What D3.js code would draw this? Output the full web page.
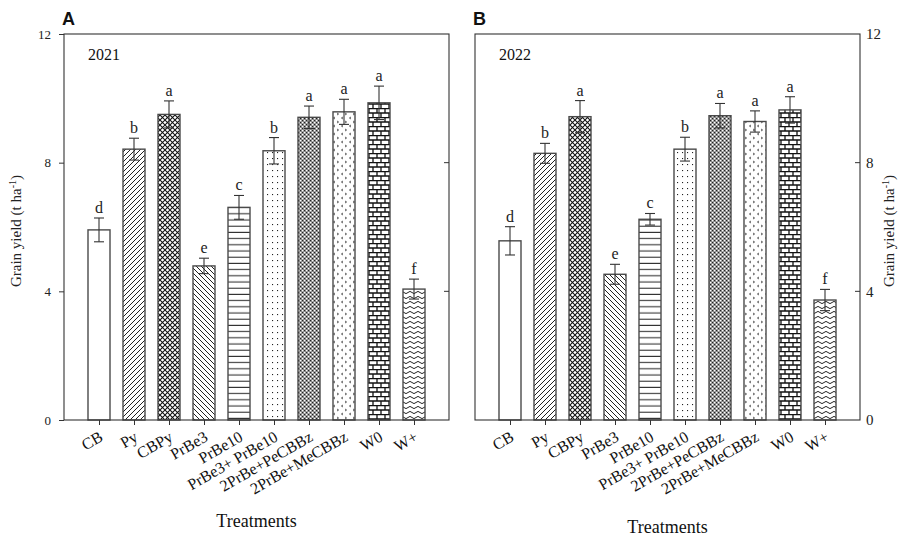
<!DOCTYPE html>
<html><head><meta charset="utf-8">
<script src="https://cdn.jsdelivr.net/npm/d3@7"></script>
<style>body{margin:0;background:#fff}svg{display:block}</style>
</head><body>
<svg id="c" width="907" height="537"></svg>
<script>
const categories = ["CB","Py","CBPy","PrBe3","PrBe10","PrBe3+ PrBe10","2PrBe+PeCBBz","2PrBe+MeCBBz","W0","W+"];
const yield2021 = [5.91,8.42,9.50,4.79,6.61,8.37,9.41,9.58,9.86,4.07];
const err2021   = [0.37,0.34,0.42,0.24,0.37,0.41,0.35,0.39,0.52,0.31];
const letters2021 = ["d","b","a","e","c","b","a","a","a","f"];
const yield2022 = [5.57,8.29,9.43,4.53,6.24,8.42,9.46,9.28,9.64,3.73];
const err2022   = [0.44,0.31,0.50,0.31,0.18,0.37,0.38,0.33,0.41,0.33];
const letters2022 = ["d","b","a","e","c","b","a","a","a","f"];
const yTicks = [0,4,8,12];
const patternIds = ["none","fwd","cross","back","horiz","dots","gray","chev","brick","wave"];

const svg = d3.select("#c");
const defs = svg.append("defs");
function pat(id,w,h){return defs.append("pattern").attr("id",id).attr("patternUnits","userSpaceOnUse").attr("width",w).attr("height",h);}
let p;
p=pat("fwd",5,5); p.append("rect").attr("width",5).attr("height",5).attr("fill","#fff");
p.append("path").attr("d","M-1,1 l2,-2 M0,5 l5,-5 M4,6 l2,-2").attr("stroke","#222").attr("stroke-width",1);
p=pat("back",5,5); p.append("rect").attr("width",5).attr("height",5).attr("fill","#fff");
p.append("path").attr("d","M-1,4 l2,2 M0,0 l5,5 M4,-1 l2,2").attr("stroke","#222").attr("stroke-width",1);
p=pat("cross",5,5); p.append("rect").attr("width",5).attr("height",5).attr("fill","#fff");
p.append("path").attr("d","M0,0 L5,5 M0,5 L5,0").attr("stroke","#111").attr("stroke-width",1.05);
p=pat("horiz",6,6.2); p.append("rect").attr("width",6).attr("height",6.2).attr("fill","#fff");
p.append("line").attr("x1",0).attr("x2",6).attr("y1",3).attr("y2",3).attr("stroke","#333").attr("stroke-width",1.1);
p=pat("dots",5,6); p.append("rect").attr("width",5).attr("height",6).attr("fill","#fff");
p.append("rect").attr("x",2).attr("y",2).attr("width",1.1).attr("height",1.1).attr("fill","#222");
p=pat("gray",4,4); p.append("rect").attr("width",4).attr("height",4).attr("fill","#8a8a8a");
p.append("rect").attr("x",0).attr("y",0).attr("width",1.3).attr("height",1.3).attr("fill","#fff");
p.append("rect").attr("x",2).attr("y",2).attr("width",1.3).attr("height",1.3).attr("fill","#fff");
p.append("rect").attr("x",2).attr("y",0).attr("width",1).attr("height",1).attr("fill","#222");
p.append("rect").attr("x",0).attr("y",2).attr("width",1).attr("height",1).attr("fill","#222");
p=pat("chev",8,8); p.append("rect").attr("width",8).attr("height",8).attr("fill","#fff");
p.append("path").attr("d","M1,1 L2.6,2 L1,3 M7,5 L5.4,6 L7,7").attr("stroke","#333").attr("stroke-width",0.8).attr("fill","none");
p=pat("brick",8,9); p.append("rect").attr("width",8).attr("height",9).attr("fill","#fff");
p.append("path").attr("d","M0,0.5 H8 M0,5 H8 M1,0.5 V5 M5,5 V9").attr("stroke","#111").attr("stroke-width",1.3);
p=pat("wave",8,5); p.append("rect").attr("width",8).attr("height",5).attr("fill","#fff");
p.append("path").attr("d","M0,2.5 Q2,0.3 4,2.5 T8,2.5").attr("stroke","#222").attr("stroke-width",1).attr("fill","none");

const yTop = 34, yBot = 420;
const y = d3.scaleLinear().domain([0,12]).range([yBot,yTop]);
const serif = "'Liberation Serif','Times New Roman',serif";

function panel(x0,x1,vals,errs,lets,year,label,side){
  const g = svg.append("g");
  const x = d3.scalePoint().domain(categories).range([x0,x1]).padding(1);
  const bw = 22;
  g.selectAll("rect.bar").data(categories).join("rect")
    .attr("x",d=>x(d)-bw/2).attr("width",bw)
    .attr("y",(d,i)=>y(vals[i])).attr("height",(d,i)=>y(0)-y(vals[i]))
    .attr("fill",(d,i)=>patternIds[i]==="none"?"#fff":`url(#${patternIds[i]})`)
    .attr("stroke","#4a4a4a").attr("stroke-width",1.4);
  const eb = g.selectAll("g.eb").data(categories).join("g").attr("stroke","#333").attr("stroke-width",1.1);
  eb.append("line").attr("x1",d=>x(d)).attr("x2",d=>x(d)).attr("y1",(d,i)=>y(vals[i]+errs[i])).attr("y2",(d,i)=>y(vals[i]-errs[i]));
  eb.append("line").attr("x1",d=>x(d)-5).attr("x2",d=>x(d)+5).attr("y1",(d,i)=>y(vals[i]+errs[i])).attr("y2",(d,i)=>y(vals[i]+errs[i]));
  eb.append("line").attr("x1",d=>x(d)-5).attr("x2",d=>x(d)+5).attr("y1",(d,i)=>y(vals[i]-errs[i])).attr("y2",(d,i)=>y(vals[i]-errs[i]));
  g.selectAll("text.let").data(categories).join("text")
    .attr("x",d=>x(d)).attr("y",(d,i)=>y(vals[i]+errs[i])-5)
    .attr("text-anchor","middle").attr("font-family",serif).attr("font-size",16).attr("fill","#222")
    .text((d,i)=>lets[i]);
  g.append("rect").attr("x",x0).attr("y",yTop).attr("width",x1-x0).attr("height",yBot-yTop)
    .attr("fill","none").attr("stroke","#333").attr("stroke-width",1.1);
  const xa = g.append("g").attr("transform",`translate(0,${yBot})`)
    .call(d3.axisBottom(x).tickSize(5).tickFormat(""));
  xa.select(".domain").remove();
  xa.selectAll("line").attr("stroke","#333");
  g.selectAll("text.xl").data(categories).join("text")
    .attr("transform",d=>`translate(${x(d)+5},${yBot+20}) rotate(-30)`)
    .attr("text-anchor","end").attr("font-family",serif).attr("font-size",16).attr("fill","#111")
    .text(d=>d);
  const outer = side==="left" ? d3.axisLeft(y) : d3.axisRight(y);
  const ya = g.append("g").attr("transform",`translate(${side==="left"?x0:x1},0)`)
    .call(outer.tickValues(yTicks).tickSize(side==="left"?5:0).tickPadding(side==="left"?8:6));
  ya.select(".domain").remove();
  ya.selectAll("line").attr("stroke","#333");
  ya.selectAll("text").attr("font-family",serif).attr("font-size",side==="left"?13:15).attr("fill","#222");
  g.selectAll("line.it").data(yTicks.slice(1,3)).join("line")
    .attr("x1",x1).attr("x2",x1-5).attr("y1",d=>y(d)).attr("y2",d=>y(d)).attr("stroke","#333");
  g.append("text").attr("x",x0+24).attr("y",60).attr("font-family",serif).attr("font-size",16).attr("fill","#111").text(year);
  g.append("text").attr("x",x0-2).attr("y",25).attr("font-family","'Liberation Sans',Arial,sans-serif")
    .attr("font-weight","bold").attr("font-size",18).attr("fill","#111").text(label);
  const tx = side==="left"?21:894;
  const yt = g.append("text").attr("transform",`translate(${tx},231) rotate(-90)`)
    .attr("text-anchor","middle").attr("font-family",serif).attr("font-size",15).attr("fill","#222");
  yt.append("tspan").text("Grain yield (t ha");
  yt.append("tspan").attr("baseline-shift","super").attr("font-size",10).text("-1");
  yt.append("tspan").text(")");
  g.append("text").attr("x",(x0+x1)/2).attr("y",side==="left"?527:533).attr("text-anchor","middle")
    .attr("font-family",serif).attr("font-size",18).attr("fill","#111").text("Treatments");
}
panel(64,449,yield2021,err2021,letters2021,"2021","A","left");
panel(475,860,yield2022,err2022,letters2022,"2022","B","right");
</script>
</body></html>
